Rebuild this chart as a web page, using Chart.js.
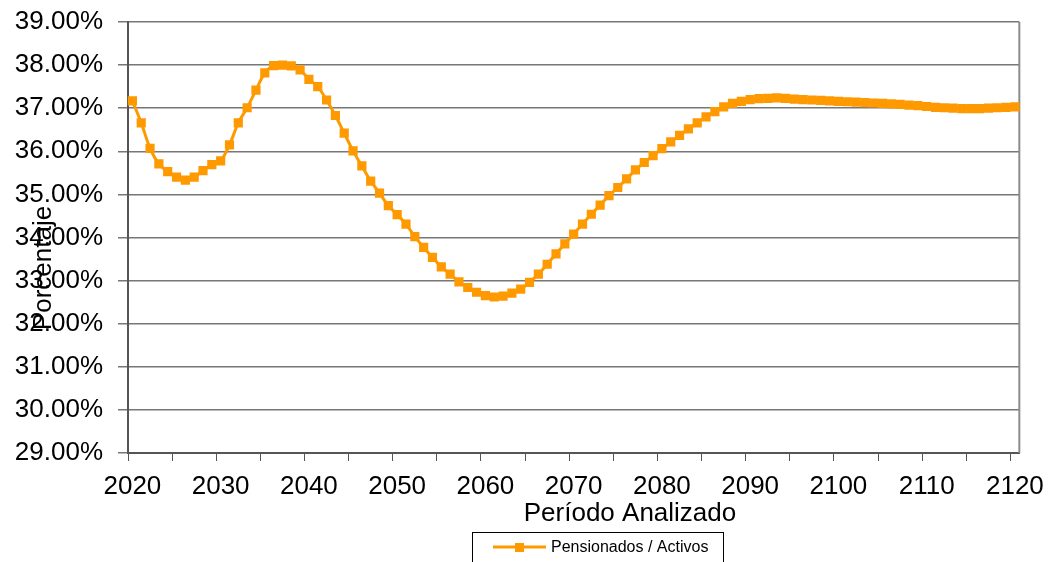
<!DOCTYPE html>
<html>
<head>
<meta charset="utf-8">
<title>Pensionados / Activos</title>
<script src="https://cdn.jsdelivr.net/npm/chart.js@4.4.0/dist/chart.umd.min.js"></script>
<style>
  html, body { margin: 0; padding: 0; background: #ffffff; }
  #wrap { width: 1054px; height: 562px; }
</style>
</head>
<body>
<div id="wrap"><canvas id="ratioChart" width="1054" height="562"></canvas></div>
<script>
// years on the category axis, one per point
const firstYear = 2020;
const lastYear = 2120;
const years = [];
for (let y = firstYear; y <= lastYear; y++) years.push(String(y));

// ratio pensioners / active contributors, in percent
const ratioPct = [
  37.17, 36.66, 36.07, 35.71, 35.53, 35.40, 35.33, 35.40, 35.55, 35.69,
  35.78, 36.15, 36.66, 37.01, 37.42, 37.82, 37.99, 38.00, 37.98, 37.89,
  37.67, 37.50, 37.19, 36.83, 36.42, 36.01, 35.66, 35.31, 35.03, 34.74,
  34.53, 34.31, 34.02, 33.77, 33.54, 33.32, 33.15, 32.97, 32.84, 32.73,
  32.65, 32.62, 32.64, 32.71, 32.80, 32.96, 33.15, 33.38, 33.62, 33.85,
  34.08, 34.31, 34.54, 34.75, 34.97, 35.16, 35.36, 35.57, 35.74, 35.90,
  36.06, 36.22, 36.37, 36.52, 36.66, 36.80, 36.92, 37.03, 37.11, 37.16,
  37.20, 37.22, 37.23, 37.24, 37.23, 37.21, 37.20, 37.19, 37.18, 37.17,
  37.16, 37.15, 37.14, 37.13, 37.12, 37.11, 37.10, 37.09, 37.07, 37.06,
  37.04, 37.02, 37.01, 37.00, 36.99, 36.99, 36.99, 37.00, 37.01, 37.02,
  37.03
];

// y axis range and step (percent)
const yMin = 29;
const yMax = 39;
const yStep = 1;

const seriesName = 'Pensionados / Activos';
const xTitle = 'Período Analizado';
const yTitle = 'Porcentaje';

const orange = '#FF9900';
const fontFamily = '"Liberation Sans", Arial, sans-serif';

// titles, frame and the boxed legend, drawn on the canvas
const decorations = {
  id: 'decorations',
  beforeDatasetsDraw(chart) {
    const { ctx, chartArea } = chart;
    ctx.save();
    ctx.strokeStyle = '#8c8c8c';
    ctx.lineWidth = 2;
    ctx.beginPath();
    ctx.moveTo(chartArea.right, chartArea.top);
    ctx.lineTo(chartArea.right, chartArea.bottom);
    ctx.stroke();
    ctx.restore();
  },
  afterDraw(chart) {
    const ctx = chart.ctx;
    ctx.save();
    ctx.fillStyle = '#000000';

    // x axis title
    ctx.font = '26px ' + fontFamily;
    ctx.textAlign = 'center';
    ctx.textBaseline = 'alphabetic';
    ctx.fillText(xTitle, 630, 521);

    // y axis title (overlaps the tick labels, as in the original)
    ctx.translate(44, 268);
    ctx.rotate(-Math.PI / 2);
    ctx.textBaseline = 'middle';
    ctx.fillText(yTitle, 0, 0);
    ctx.setTransform(1, 0, 0, 1, 0, 0);

    // legend box
    ctx.strokeStyle = '#000000';
    ctx.lineWidth = 1;
    ctx.strokeRect(472.5, 532.5, 251, 40);
    ctx.strokeStyle = orange;
    ctx.lineWidth = 3;
    ctx.beginPath();
    ctx.moveTo(493, 547);
    ctx.lineTo(546, 547);
    ctx.stroke();
    ctx.fillStyle = orange;
    ctx.fillRect(515, 543, 9, 9);
    ctx.fillStyle = '#000000';
    ctx.font = '16px ' + fontFamily;
    ctx.textAlign = 'left';
    ctx.textBaseline = 'middle';
    ctx.fillText(seriesName, 551, 548);
    ctx.restore();
  }
};

new Chart(document.getElementById('ratioChart'), {
  type: 'line',
  data: {
    labels: years,
    datasets: [{
      label: seriesName,
      data: ratioPct,
      borderColor: orange,
      backgroundColor: orange,
      borderWidth: 3,
      tension: 0.3,
      pointStyle: 'rect',
      pointRadius: 6.5,
      pointBorderWidth: 0,
      pointBackgroundColor: orange,
      pointBorderColor: orange,
      fill: false
    }]
  },
  options: {
    responsive: false,
    animation: false,
    devicePixelRatio: 1,
    layout: { padding: { top: 22, right: 34, bottom: 0, left: 0 } },
    plugins: {
      legend: { display: false },
      tooltip: { enabled: false }
    },
    scales: {
      x: {
        type: 'category',
        offset: true,
        afterFit(scale) { scale.height = 109; },
        grid: {
          offset: true,
          drawOnChartArea: false,
          drawTicks: true,
          tickLength: 8,
          lineWidth: 1,
          color(c) { return (c.index % 5 === 0) ? '#555555' : 'rgba(0,0,0,0)'; }
        },
        border: { display: true, color: '#555555', width: 2 },
        ticks: {
          autoSkip: false,
          maxRotation: 0,
          padding: 10,
          color: '#000000',
          font: { family: fontFamily, size: 26 },
          callback(value, index) {
            const yr = Number(this.getLabelForValue(value));
            return (yr % 10 === 0) ? String(yr) : '';
          }
        }
      },
      y: {
        min: yMin,
        max: yMax,
        afterFit(scale) {
          scale.width = 128;
          scale.paddingTop = 0;
          scale.paddingBottom = 0;
        },
        grid: {
          color: '#777777',
          lineWidth: 1.5,
          drawTicks: true,
          tickLength: 10
        },
        border: { display: true, color: '#555555', width: 2 },
        ticks: {
          stepSize: yStep,
          padding: 15,
          color: '#000000',
          font: { family: fontFamily, size: 26 },
          callback(v) { return v.toFixed(2) + '%'; }
        }
      }
    }
  },
  plugins: [decorations]
});
</script>
</body>
</html>
